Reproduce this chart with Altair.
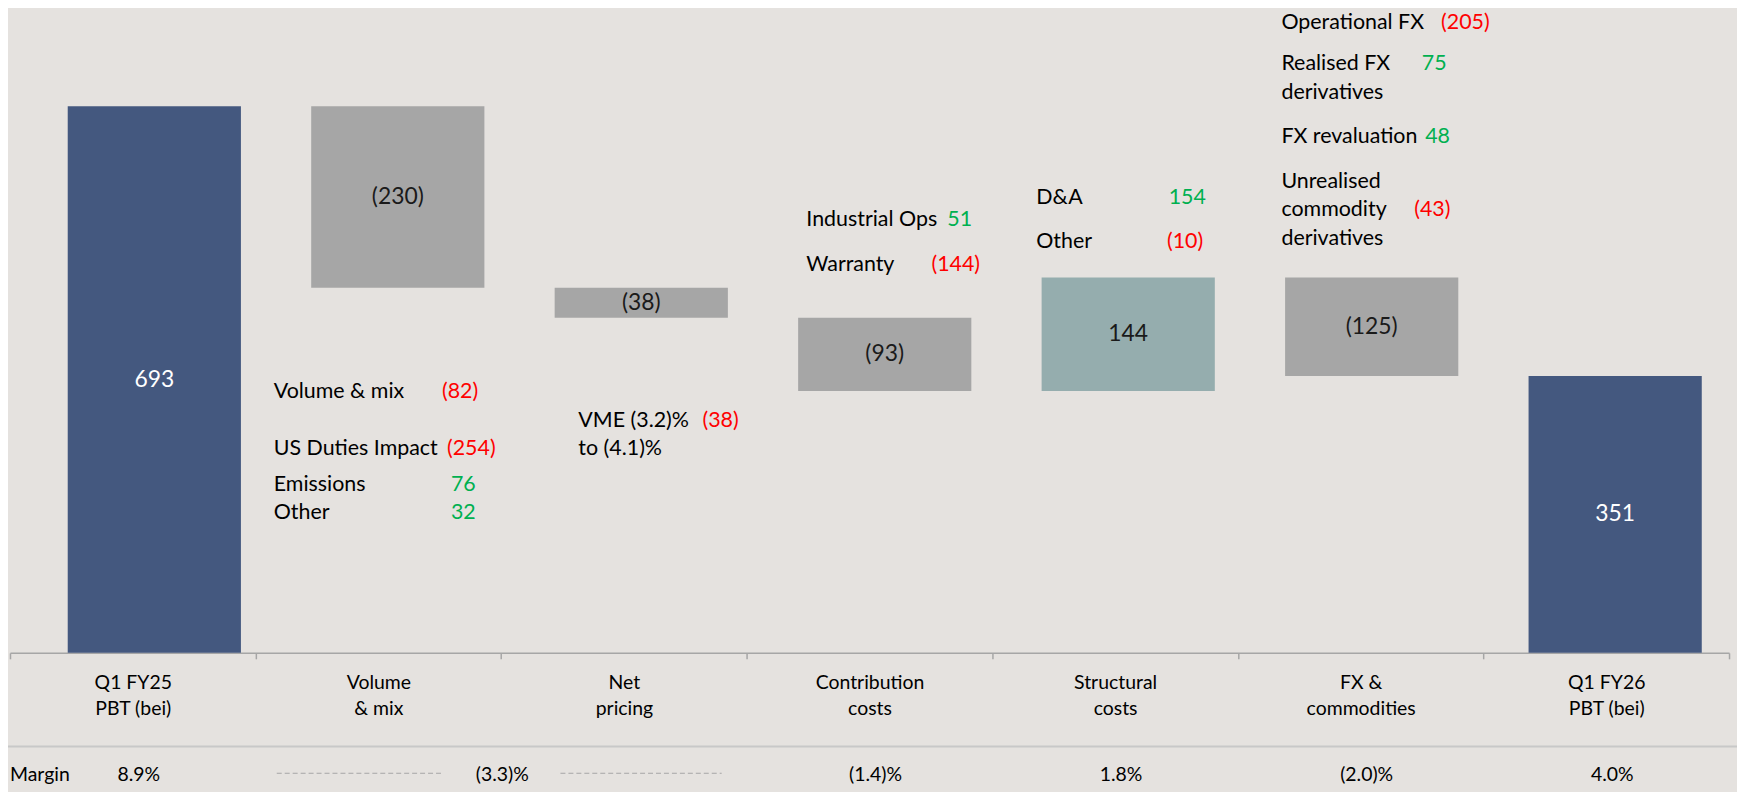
import altair as alt
import pandas as pd

# ---------------- data ----------------
cat_line1 = ["Q1 FY25", "Volume", "Net", "Contribution", "Structural", "FX &", "Q1 FY26"]
cat_line2 = ["PBT (bei)", "& mix", "pricing", "costs", "costs", "commodities", "PBT (bei)"]
bar_values = [693, -230, -38, -93, 144, -125, 351]
bar_kinds = ["total", "down", "down", "down", "up", "down", "total"]

margin_cat_idx = [0, 3, 4, 5, 6]
margin_values = ["8.9%", "(1.4)%", "1.8%", "(2.0)%", "4.0%"]
combined_margin = "(3.3)%"          # spans Volume & mix + Net pricing

vol_labels = ["Volume & mix", "US Duties Impact", "Emissions", "Other"]
vol_values = [-82, -254, 76, 32]
net_labels = ["VME (3.2)%", "to (4.1)%"]
net_values = [-38]
con_labels = ["Industrial Ops", "Warranty"]
con_values = [51, -144]
str_labels = ["D&A", "Other"]
str_values = [154, -10]
fx_labels = ["Operational FX", "Realised FX", "derivatives", "FX revaluation",
             "Unrealised", "commodity", "derivatives"]
fx_values = [-205, 75, 48, -43]

# ---------------- layout / style ----------------
FONT = "Lato"
BG = "#E5E2DF"
NAVY, GREY, TEAL = "#44587F", "#A6A6A6", "#95ADAE"
RED, GREEN = "#FF0000", "#00B050"
W, H = 1727, 646            # plot area (page x 10..1737, y 8..654)
PAD = {"left": 2, "top": 0, "right": 8, "bottom": 138}
BAR_STEP, BAR_C0 = 244.6, 145.0   # bar band step / first bar centre (plot px)
ANN_SIZE = 21.5

def fmt(v):
    return f"({abs(v)})" if v < 0 else str(v)

cats = [a + "|" + b for a, b in zip(cat_line1, cat_line2)]

# waterfall table
starts, ends, run = [], [], 0
for v, k in zip(bar_values, bar_kinds):
    if k == "total":
        starts.append(0); ends.append(v); run = v
    else:
        starts.append(run); run += v; ends.append(run)
bars_df = pd.DataFrame({
    "cat": cats, "start": starts, "end": ends, "kind": bar_kinds,
    "label": [fmt(v) for v in bar_values],
    "lcolor": ["white" if k == "total" else "#1A1A1A" for k in bar_kinds],
})
bars_df["mid"] = (bars_df["start"] + bars_df["end"]) / 2

yscale = alt.Scale(domain=[0, H / 0.7922], nice=False, zero=False)
bw_frac = 174.0 / BAR_STEP
bar_x = alt.Scale(domain=cats,
                  range=[BAR_C0 - BAR_STEP / 2, BAR_C0 + 6.5 * BAR_STEP],
                  paddingInner=1 - bw_frac, paddingOuter=(1 - bw_frac) / 2)
axis_x = alt.Scale(domain=cats, paddingInner=0, paddingOuter=0)

cat_axis = alt.Axis(orient="bottom", title=None, tickBand="extent",
                    domainColor="#A6A6A6", domainWidth=1.5,
                    tickColor="#A6A6A6", tickWidth=1.5, tickSize=6,
                    labelFont=FONT, labelFontSize=19.5, labelColor="#000000",
                    labelAngle=0, labelBaseline="top", labelPadding=15,
                    labelLineHeight=25.7, labelLimit=400, grid=False,
                    labelExpr="split(datum.label, '|')")

bars = alt.Chart(bars_df).mark_bar().encode(
    x=alt.X("cat:N", scale=bar_x, axis=None),
    y=alt.Y("start:Q", scale=yscale, axis=None),
    y2="end:Q",
    color=alt.Color("kind:N", scale=alt.Scale(domain=["total", "down", "up"],
                                              range=[NAVY, GREY, TEAL]), legend=None),
)
bar_labels = alt.Chart(bars_df).mark_text(font=FONT, fontSize=23, baseline="middle").encode(
    x=alt.X("cat:N", scale=bar_x, axis=None),
    y=alt.Y("mid:Q", scale=yscale, axis=None),
    text="label:N",
    color=alt.Color("lcolor:N", scale=None),
)

# call-out positions (page px): label left x, label baselines, value left xs, value baselines
groups = [
    (1, vol_labels, 275, [398.3, 455, 491.7, 520], vol_values, [444, 449, 453, 453], [398.3, 455, 491.7, 520]),
    (2, net_labels, 581, [426.7, 455], net_values, [705.7], [426.7]),
    (3, con_labels, 810, [225, 270], con_values, [951.7, 935.7], [225, 270]),
    (4, str_labels, 1041, [202.7, 247.7], str_values, [1174, 1172.3], [202.7, 247.7]),
    (5, fx_labels, 1287.3, [27, 68.5, 97.5, 141.7, 186.7, 215, 244], fx_values,
     [1447.7, 1428.3, 1431.7, 1420.7], [27, 68.5, 141.7, 215]),
]
ann_layers = []
for idx, labels, lx, lys, values, vxs, vys in groups:
    centre_page = 10 + BAR_C0 + BAR_STEP * idx
    for txt, ly in zip(labels, lys):
        d = pd.DataFrame({"cat": [cats[idx]], "t": [txt]})
        ann_layers.append(alt.Chart(d).mark_text(
            font=FONT, fontSize=ANN_SIZE, align="left", baseline="alphabetic",
            color="#000000", dx=lx - centre_page).encode(
            x=alt.X("cat:N", scale=bar_x, axis=None), y=alt.value(ly - 8), text="t:N"))
    for v, vx, vy in zip(values, vxs, vys):
        d = pd.DataFrame({"cat": [cats[idx]], "t": [fmt(v)]})
        ann_layers.append(alt.Chart(d).mark_text(
            font=FONT, fontSize=ANN_SIZE, align="left", baseline="alphabetic",
            color=RED if v < 0 else GREEN, dx=vx - centre_page).encode(
            x=alt.X("cat:N", scale=bar_x, axis=None), y=alt.value(vy - 8), text="t:N"))

bar_group = alt.layer(bars, bar_labels, *ann_layers)

# axis + margin row
MY = 775
m_df = pd.DataFrame({"cat": [cats[i] for i in margin_cat_idx], "t": margin_values})
margin_txt = alt.Chart(m_df).mark_text(font=FONT, fontSize=19.5, baseline="alphabetic",
                                       color="#000000", dx=6).encode(
    x=alt.X("cat:N", scale=axis_x, axis=cat_axis), y=alt.value(MY), text="t:N")
mc_df = pd.DataFrame({"cat": [cats[1]], "t": [combined_margin]})
margin_comb = alt.Chart(mc_df).mark_text(font=FONT, fontSize=19.5, baseline="alphabetic",
                                         color="#000000", dx=124.5).encode(
    x=alt.X("cat:N", scale=axis_x, axis=cat_axis), y=alt.value(MY), text="t:N")
one = pd.DataFrame({"a": [0]})
margin_title = alt.Chart(one).mark_text(font=FONT, fontSize=19.5, baseline="alphabetic",
                                        align="left", color="#000000", text="Margin").encode(
    x=alt.value(0), y=alt.value(MY))
sep = alt.Chart(one).mark_rule(color="#C8C8C8", strokeWidth=2).encode(
    x=alt.value(-10), x2=alt.value(1740), y=alt.value(740))
dash1 = alt.Chart(one).mark_rule(color="#A6A6A6", strokeWidth=1, strokeDash=[5, 3]).encode(
    x=alt.value(268), x2=alt.value(435), y=alt.value(767))
dash2 = alt.Chart(one).mark_rule(color="#A6A6A6", strokeWidth=1, strokeDash=[5, 3]).encode(
    x=alt.value(553), x2=alt.value(715), y=alt.value(767))

axis_group = alt.layer(margin_txt, margin_comb, margin_title, sep, dash1, dash2)

chart = alt.layer(axis_group, bar_group).resolve_scale(x="independent").properties(
    width=W, height=H, autosize=alt.AutoSizeParams(type="none"), padding=PAD,
).configure(background=BG).configure_view(stroke=None)

chart.save("out.html", embed_options={"renderer": "svg", "actions": False})
